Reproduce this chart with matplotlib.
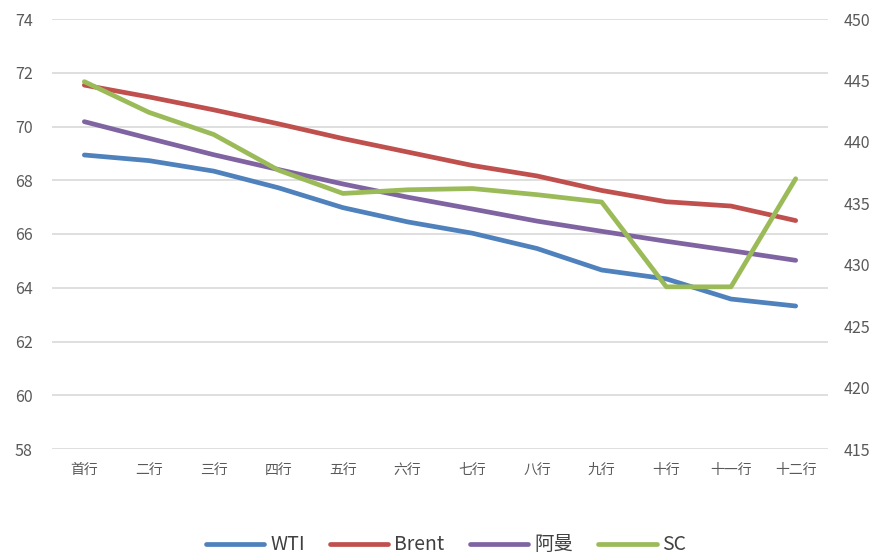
import matplotlib
matplotlib.use("Agg")
import matplotlib.pyplot as plt

categories = ["首行", "二行", "三行", "四行", "五行", "六行", "七行", "八行", "九行", "十行", "十一行", "十二行"]
wti = [68.94, 68.73, 68.34, 67.72, 66.98, 66.45, 66.03, 65.46, 64.66, 64.33, 63.58, 63.32]
brent = [71.54, 71.10, 70.62, 70.10, 69.55, 69.05, 68.55, 68.16, 67.62, 67.20, 67.04, 66.50]
oman = [70.18, 69.56, 68.95, 68.40, 67.86, 67.37, 66.93, 66.48, 66.10, 65.73, 65.38, 65.02]
sc = [444.9, 442.4, 440.6, 437.7, 435.8, 436.1, 436.2, 435.7, 435.1, 428.2, 428.2, 437.0]

left_ticks = [58, 60, 62, 64, 66, 68, 70, 72, 74]
right_ticks = [415, 420, 425, 430, 435, 440, 445, 450]

plt.rcParams['font.family'] = ['Noto Sans CJK SC', 'DejaVu Sans']

fig = plt.figure(figsize=(8.75, 5.57), dpi=100)
ax = fig.add_axes([52/875, 1-449/557, (828-52)/875, (449-19)/557])
ax2 = ax.twinx()

x = list(range(len(categories)))
lw = 3.4
l1, = ax.plot(x, wti, color="#4F81BD", lw=lw, solid_capstyle="round", label="WTI")
l2, = ax.plot(x, brent, color="#C0504D", lw=lw, solid_capstyle="round", label="Brent")
l3, = ax.plot(x, oman, color="#8064A2", lw=lw, solid_capstyle="round", label="阿曼")
l4, = ax2.plot(x, sc, color="#9BBB59", lw=lw, solid_capstyle="round", label="SC")

ax.set_ylim(58, 74)
ax.set_yticks(left_ticks)
ax2.set_ylim(415, 450)
ax2.set_yticks(right_ticks)
ax.set_xlim(-0.5, len(categories) - 0.5)
ax.set_xticks(x)
ax.set_xticklabels(categories, fontsize=10, color="#595959")

ax.grid(axis="y", color="#D9D9D9", lw=1.2)
ax.set_axisbelow(True)
for a in (ax, ax2):
    for s in a.spines.values():
        s.set_visible(False)
    a.tick_params(length=0, labelsize=11.5, labelcolor="#595959")
ax.tick_params(axis="y", pad=14)
ax2.tick_params(axis="y", pad=11)
ax.tick_params(axis="x", pad=10, labelsize=10)

fig.legend(handles=[l1, l2, l3, l4], loc="center", bbox_to_anchor=(0.51, 1-545/557),
           ncol=4, frameon=False, fontsize=14, handlelength=3.0, columnspacing=1.3,
           handletextpad=0.3, labelcolor="#404040")

fig.savefig("out.png", dpi=100)
